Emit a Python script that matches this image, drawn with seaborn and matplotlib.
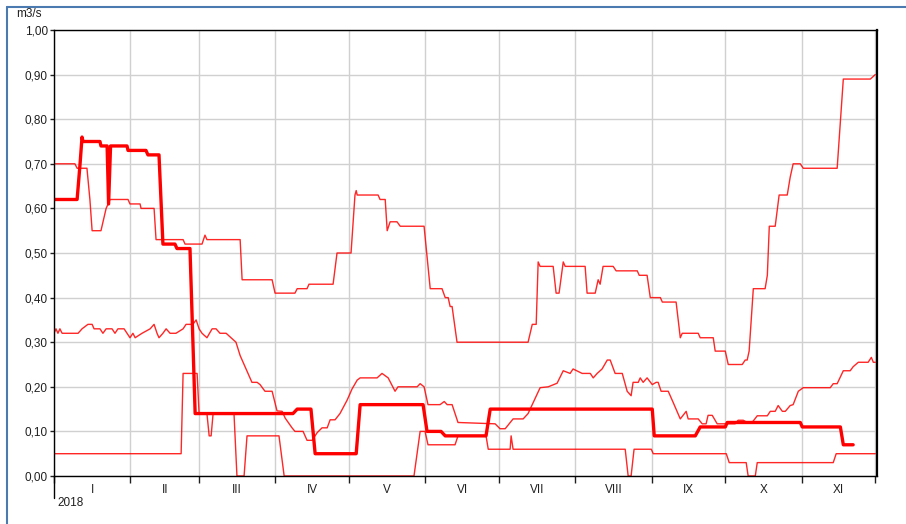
import matplotlib
matplotlib.use("Agg")
import matplotlib.pyplot as plt
import seaborn as sns
import pandas as pd
from matplotlib.lines import Line2D
from matplotlib.ticker import FuncFormatter, FixedLocator

# ---------------- data (day of year 2018, 0 = 1 Jan) ----------------
mean_days = [0, 9.4, 10.6, 11.4, 11.8, 18.7, 19.1, 21.6, 22.2, 23.0, 29.7, 30.1, 37.4, 38.2,
             42.7, 44.3, 49.2, 50.0, 55.3, 56.5, 57.4, 97.2, 98.9, 104.5, 106.2, 122.9, 124.5,
             150.1, 151.7, 157.4, 159.1, 175.7, 177.4, 243.3, 244.1, 260.8, 262.8, 273.0,
             273.8, 303.5, 304.3, 319.8, 321.0, 325.0]
mean_vals = [0.62, 0.62, 0.70, 0.76, 0.75, 0.75, 0.74, 0.74, 0.61, 0.74, 0.74, 0.73, 0.73, 0.72,
             0.72, 0.52, 0.52, 0.51, 0.51, 0.30, 0.14, 0.14, 0.15, 0.15, 0.05, 0.05, 0.16,
             0.16, 0.10, 0.10, 0.09, 0.09, 0.15, 0.15, 0.09, 0.09, 0.11, 0.11,
             0.12, 0.12, 0.11, 0.11, 0.07, 0.07]

max_days = [0, 8.5, 9.4, 13.4, 14.6, 15.5, 19.1, 21.2, 22.8, 30.1, 30.9, 35.0, 35.4, 40.7, 41.5,
            52.5, 53.3, 60.2, 61.4, 62.2, 75.7, 76.5, 88.7, 89.9, 98.0, 98.9, 102.9, 103.7,
            113.5, 115.1, 120.8, 122.4, 122.9, 123.3, 131.8, 132.6, 134.7, 135.5, 136.7, 139.5,
            140.8, 150.5, 153.0, 157.8, 159.1, 160.3, 161.1, 161.9, 163.9, 192.8, 194.5, 196.1,
            196.9, 197.7, 203.0, 204.2, 205.4, 207.1, 207.9, 216.0, 216.8, 220.1, 221.3, 222.1,
            223.3, 227.4, 228.6, 237.2, 238.0, 241.2, 242.5, 246.6, 247.4, 253.0, 254.7, 255.5,
            262.0, 262.8, 268.1, 268.9, 273.0, 274.2, 279.9, 281.1, 281.9, 282.7, 284.4, 289.2,
            290.1, 290.9, 293.3, 294.9, 298.2, 299.4, 300.6, 303.5, 304.7, 318.5, 321.0, 332.0,
            334.0]
max_vals = [0.70, 0.70, 0.69, 0.69, 0.62, 0.55, 0.55, 0.60, 0.62, 0.62, 0.61, 0.61, 0.60, 0.60, 0.53,
            0.53, 0.52, 0.52, 0.54, 0.53, 0.53, 0.44, 0.44, 0.41, 0.41, 0.42, 0.42, 0.43,
            0.43, 0.50, 0.50, 0.63, 0.64, 0.63, 0.63, 0.62, 0.62, 0.55, 0.57, 0.57,
            0.56, 0.56, 0.42, 0.42, 0.40, 0.40, 0.38, 0.38, 0.30, 0.30, 0.34, 0.34,
            0.48, 0.47, 0.47, 0.41, 0.41, 0.48, 0.47, 0.47, 0.41, 0.41, 0.44, 0.43,
            0.47, 0.47, 0.46, 0.46, 0.45, 0.45, 0.40, 0.40, 0.39, 0.39, 0.31, 0.32,
            0.32, 0.31, 0.31, 0.28, 0.28, 0.25, 0.25, 0.26, 0.26, 0.28, 0.42, 0.42,
            0.45, 0.56, 0.56, 0.63, 0.63, 0.67, 0.70, 0.70, 0.69, 0.69, 0.89, 0.89,
            0.90]

mid_days = [0, 0.8, 1.6, 2.4, 3.3, 9.8, 11.4, 13.8, 15.5, 16.3, 18.7, 19.9, 21.2, 23.6, 24.8, 26.0,
            28.5, 29.7, 30.9, 32.1, 33.0, 35.8, 39.1, 40.7, 41.9, 42.7, 44.3, 45.6, 47.2, 49.6,
            52.5, 53.7, 56.5, 57.8, 59.0, 60.2, 62.2, 64.3, 65.9, 67.5, 70.0, 72.0, 74.0, 75.7,
            78.9, 80.5, 82.6, 83.8, 85.8, 88.7, 90.7, 92.8, 94.0, 96.8, 98.0, 101.3, 102.9, 105.0,
            107.0, 109.0, 111.1, 112.3, 114.3, 116.3, 119.2, 121.2, 123.3, 124.5, 131.4, 133.4,
            135.9, 138.7, 139.9, 147.7, 148.9, 150.5, 152.1, 157.0, 158.7, 159.9, 161.9, 164.3,
            179.4, 181.4, 183.5, 186.7, 190.8, 192.8, 194.5, 197.7, 201.0, 204.6, 207.1, 209.9,
            211.1, 214.8, 218.1, 219.3, 220.9, 222.9, 225.0, 226.2, 228.2, 231.1, 233.1, 234.7,
            235.5, 237.6, 238.4, 239.6, 241.2, 243.3, 244.9, 245.7, 246.9, 249.8, 251.8, 254.7,
            257.1, 257.9, 262.0, 263.6, 265.2, 266.0, 267.7, 269.7, 277.0, 278.2, 280.3, 281.9,
            283.9, 286.0, 290.1, 291.3, 293.3, 294.5, 296.2, 297.4, 299.4, 300.6, 302.7, 304.7,
            315.7, 316.9, 318.5, 321.0, 323.8, 325.0, 327.1, 331.1, 332.4, 333.2, 334.0]
mid_vals = [0.32, 0.33, 0.32, 0.33, 0.32, 0.32, 0.33, 0.34, 0.34, 0.33, 0.33, 0.32, 0.33, 0.33, 0.32, 0.33,
            0.33, 0.32, 0.31, 0.32, 0.31, 0.32, 0.33, 0.34, 0.32, 0.31, 0.32, 0.33, 0.32, 0.32,
            0.33, 0.34, 0.34, 0.35, 0.33, 0.32, 0.31, 0.33, 0.33, 0.32, 0.32, 0.31, 0.30, 0.27,
            0.23, 0.21, 0.21, 0.205, 0.19, 0.19, 0.146, 0.145, 0.13, 0.108, 0.10, 0.10, 0.08, 0.08,
            0.097, 0.108, 0.108, 0.126, 0.126, 0.14, 0.17, 0.195, 0.215, 0.22, 0.22, 0.23,
            0.22, 0.19, 0.20, 0.20, 0.207, 0.20, 0.16, 0.16, 0.167, 0.16, 0.16, 0.12,
            0.117, 0.106, 0.106, 0.128, 0.128, 0.14, 0.16, 0.198, 0.20, 0.208, 0.236, 0.23,
            0.24, 0.23, 0.23, 0.22, 0.23, 0.24, 0.26, 0.26, 0.23, 0.23, 0.19, 0.18,
            0.21, 0.21, 0.22, 0.21, 0.22, 0.205, 0.21, 0.21, 0.19, 0.19, 0.165, 0.128,
            0.145, 0.128, 0.128, 0.117, 0.117, 0.136, 0.136, 0.117, 0.117, 0.125, 0.125, 0.12,
            0.12, 0.135, 0.135, 0.145, 0.145, 0.158, 0.145, 0.145, 0.158, 0.16, 0.19, 0.198,
            0.198, 0.207, 0.207, 0.236, 0.236, 0.245, 0.255, 0.255, 0.266, 0.255, 0.255]

min_days = [0, 51.7, 52.5, 58.2, 59.0, 62.2, 63.1, 63.9, 64.7, 73.2, 74.4, 77.3, 78.5, 91.5, 93.6,
            146.4, 148.9, 150.9, 152.1, 163.1, 164.3, 175.7, 176.6, 185.5, 185.9, 186.7, 232.3,
            233.5, 234.7, 235.9, 242.9, 243.7, 273.4, 274.6, 281.5, 282.3, 285.2, 286.0, 316.9,
            318.1, 334.0]
min_vals = [0.05, 0.05, 0.23, 0.23, 0.14, 0.14, 0.09, 0.09, 0.14, 0.14, 0.0, 0.0, 0.09, 0.09, 0.0,
            0.0, 0.10, 0.10, 0.07, 0.07, 0.09, 0.09, 0.06, 0.06, 0.09, 0.06, 0.06,
            0.0, 0.0, 0.06, 0.06, 0.05, 0.05, 0.03, 0.03, 0.0, 0.0, 0.03, 0.03,
            0.05, 0.05]

month_starts = [0, 31, 59, 90, 120, 151, 181, 212, 243, 273, 304, 334]
month_labels = ["I", "II", "III", "IV", "V", "VI", "VII", "VIII", "IX", "X", "XI"]
y_ticks = [0.0, 0.1, 0.2, 0.3, 0.4, 0.5, 0.6, 0.7, 0.8, 0.9, 1.0]
year_label = "2018"
unit_label = "m3/s"

# ---------------- figure ----------------
sns.set_style("white")
plt.rcParams["font.family"] = ["Liberation Sans", "DejaVu Sans"]

W, H = 906, 524
fig = plt.figure(figsize=(W / 100, H / 100), dpi=100)
ax = fig.add_axes([54 / W, (H - 476) / H, (877 - 54) / W, (476 - 30) / H])

thin = dict(color="#ff0000", linewidth=1.0, alpha=0.85)
for d, v in [(max_days, max_vals), (mid_days, mid_vals), (min_days, min_vals)]:
    df = pd.DataFrame({"day": d, "value": v})
    sns.lineplot(data=df, x="day", y="value", ax=ax, estimator=None, sort=False, **thin)
dfm = pd.DataFrame({"day": mean_days, "value": mean_vals})
sns.lineplot(data=dfm, x="day", y="value", ax=ax, estimator=None, sort=False,
             color="#ff0000", linewidth=2.4)

ax.set_xlim(0, 334.7)
ax.set_ylim(0, 1.0)
ax.set_xlabel("")
ax.set_ylabel("")

# grid
ax.xaxis.set_major_locator(FixedLocator(month_starts))
ax.yaxis.set_major_locator(FixedLocator(y_ticks))
ax.grid(True, which="major", color="#d0d0d0", linewidth=1.0)
ax.set_axisbelow(True)

# x ticks: boundaries with no labels, labels at mid-month
ax.set_xticklabels([""] * len(month_starts))
mids = [(month_starts[i] + month_starts[i + 1]) / 2 for i in range(len(month_labels))]
ax.set_xticks(mids, minor=True)
ax.set_xticklabels(month_labels, minor=True)
ax.tick_params(axis="x", which="major", direction="out", length=5, width=1, color="#202020",
               bottom=True)
ax.tick_params(axis="x", which="minor", length=0, pad=6, labelsize=8.5, labelcolor="#202020")
ax.tick_params(axis="y", which="major", direction="out", length=3, width=1, color="#202020",
               left=True, pad=1.5, labelsize=8.5, labelcolor="#202020")
ax.yaxis.set_major_formatter(FuncFormatter(lambda v, p: f"{v:.2f}".replace(".", ",")))

for s in ax.spines.values():
    s.set_visible(True)
    s.set_color("#000000")
    s.set_linewidth(1.0)
ax.spines["right"].set_linewidth(1.6)

# left axis line extends below the plot
ax.add_line(Line2D([0, 0], [0, -22 / 446], transform=ax.transAxes, color="#000000",
                   linewidth=1.0, clip_on=False))

fig.text(57 / W, 1 - 503 / H, year_label, ha="left", va="center", fontsize=8.5, color="#202020")
fig.text(16 / W, 1 - 14 / H, unit_label, ha="left", va="center", fontsize=8.5, color="#202020")

# blue panel border (top and left)
fig.add_artist(Line2D([7 / W, 1], [1 - 7 / H, 1 - 7 / H], transform=fig.transFigure,
                      color="#4a7ab0", linewidth=1.5))
fig.add_artist(Line2D([7 / W, 7 / W], [0, 1 - 7 / H], transform=fig.transFigure,
                      color="#4a7ab0", linewidth=1.5))

fig.savefig("out.png", dpi=100, facecolor="white")
